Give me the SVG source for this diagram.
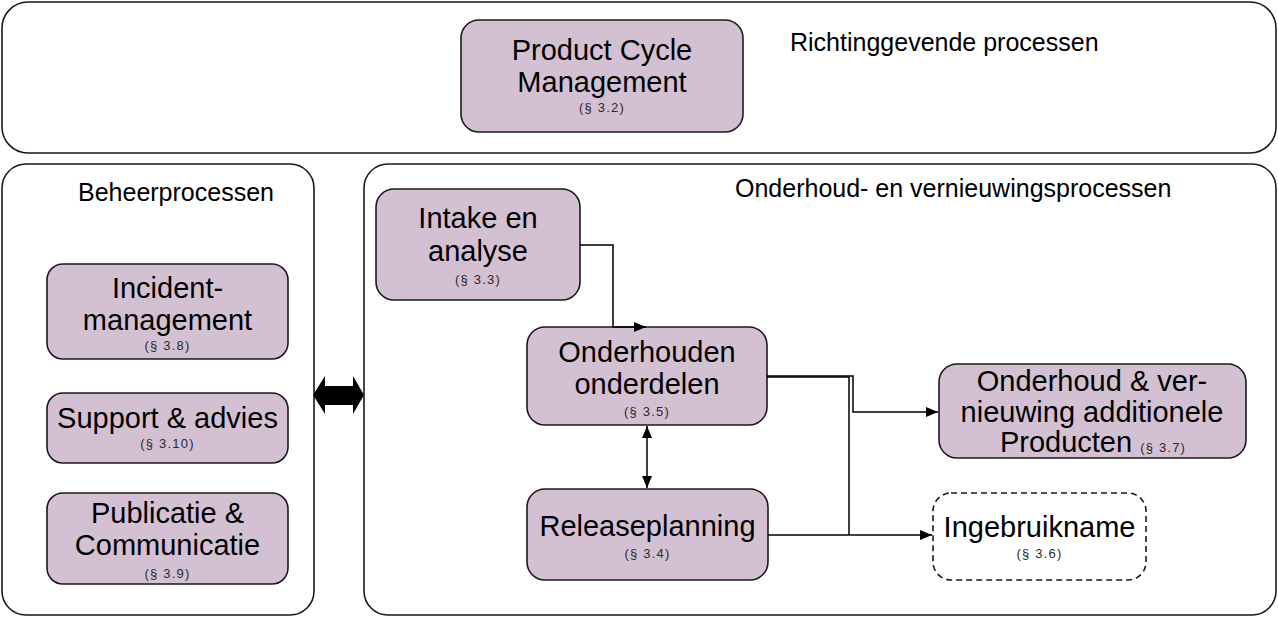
<svg xmlns="http://www.w3.org/2000/svg" width="1278" height="618" viewBox="0 0 1278 618">
<defs>
<style>
.cont{fill:#fff;stroke:#1a1a1a;stroke-width:1.6}
.box{fill:#d3c1d3;stroke:#1a1a1a;stroke-width:1.6}
.dash{fill:#fff;stroke:#1a1a1a;stroke-width:1.6;stroke-dasharray:6,4}
.t{font-family:"Liberation Sans",Arial,sans-serif;font-size:29px;fill:#000;text-anchor:middle}
.s{font-family:"Liberation Sans",Arial,sans-serif;font-size:13px;letter-spacing:1.2px;fill:#2a2a2a;text-anchor:middle}
.lab{font-family:"Liberation Sans",Arial,sans-serif;font-size:25px;fill:#000}
.c{fill:none;stroke:#000;stroke-width:1.5}
</style>
<marker id="ah" viewBox="0 0 12 10" refX="12" refY="5" markerWidth="12" markerHeight="10" markerUnits="userSpaceOnUse" orient="auto-start-reverse">
<path d="M0,0 L12,5 L0,10 z" fill="#000"/>
</marker>
</defs>

<g id="containers">
<rect class="cont" x="2" y="2" width="1274" height="151" rx="26"/>
<text class="lab" x="790" y="51">Richtinggevende processen</text>
<rect class="cont" x="2" y="164" width="312" height="451" rx="24"/>
<text class="lab" x="78" y="201">Beheerprocessen</text>
<rect class="cont" x="364" y="164" width="912" height="451" rx="24"/>
<text class="lab" x="735" y="197">Onderhoud- en vernieuwingsprocessen</text>
</g>

<g id="pcm">
<rect class="box" x="461" y="20" width="282" height="112" rx="18"/>
<text class="t" x="602" y="60">Product Cycle</text>
<text class="t" x="602" y="92">Management</text>
<text class="s" x="602" y="112">(§ 3.2)</text>
</g>

<g id="incident">
<rect class="box" x="47" y="264" width="241" height="95" rx="16"/>
<text class="t" x="167.5" y="298">Incident-</text>
<text class="t" x="167.5" y="330">management</text>
<text class="s" x="167.5" y="350">(§ 3.8)</text>
</g>

<g id="support">
<rect class="box" x="47" y="393" width="241" height="70" rx="16"/>
<text class="t" x="167.5" y="428">Support &amp; advies</text>
<text class="s" x="167.5" y="448">(§ 3.10)</text>
</g>

<g id="publicatie">
<rect class="box" x="47" y="493" width="241" height="91" rx="16"/>
<text class="t" x="167.5" y="523">Publicatie &amp;</text>
<text class="t" x="167.5" y="555">Communicatie</text>
<text class="s" x="167.5" y="578">(§ 3.9)</text>
</g>

<g id="intake">
<rect class="box" x="376" y="189" width="204" height="111" rx="18"/>
<text class="t" x="478" y="228">Intake en</text>
<text class="t" x="478" y="261">analyse</text>
<text class="s" x="478" y="284">(§ 3.3)</text>
</g>

<g id="onderhouden">
<rect class="box" x="527" y="327" width="240" height="98" rx="18"/>
<text class="t" x="647" y="362">Onderhouden</text>
<text class="t" x="647" y="394">onderdelen</text>
<text class="s" x="647" y="416">(§ 3.5)</text>
</g>

<g id="releaseplanning">
<rect class="box" x="527" y="489" width="241" height="91" rx="18"/>
<text class="t" x="647.5" y="536">Releaseplanning</text>
<text class="s" x="647.5" y="558">(§ 3.4)</text>
</g>

<g id="additioneel">
<rect class="box" x="939" y="364" width="307" height="94" rx="18"/>
<text class="t" x="1092" y="391">Onderhoud &amp; ver-</text>
<text class="t" x="1092" y="422">nieuwing additionele</text>
<text class="t" x="1093" y="452">Producten <tspan font-size="13" letter-spacing="1.2" fill="#2a2a2a">(§ 3.7)</tspan></text>
</g>

<g id="ingebruikname">
<rect class="dash" x="933" y="493" width="213" height="87" rx="18"/>
<text class="t" x="1039.5" y="537">Ingebruikname</text>
<text class="s" x="1039.5" y="558">(§ 3.6)</text>
</g>

<g id="connectors">
<polygon points="313,395 325,376 325,386 353,386 353,376 364,395 353,414 353,405 325,405 325,414" fill="#000"/>
<path class="c" d="M580,245 H613 V327 H646" marker-end="url(#ah)"/>
<path class="c" d="M647,426 V488" marker-start="url(#ah)" marker-end="url(#ah)"/>
<path class="c" d="M767,376 H853 V412 H938" marker-end="url(#ah)"/>
<path class="c" d="M767,377 H849 V535"/>
<path class="c" d="M768,535 H932" marker-end="url(#ah)"/>
</g>
</svg>
